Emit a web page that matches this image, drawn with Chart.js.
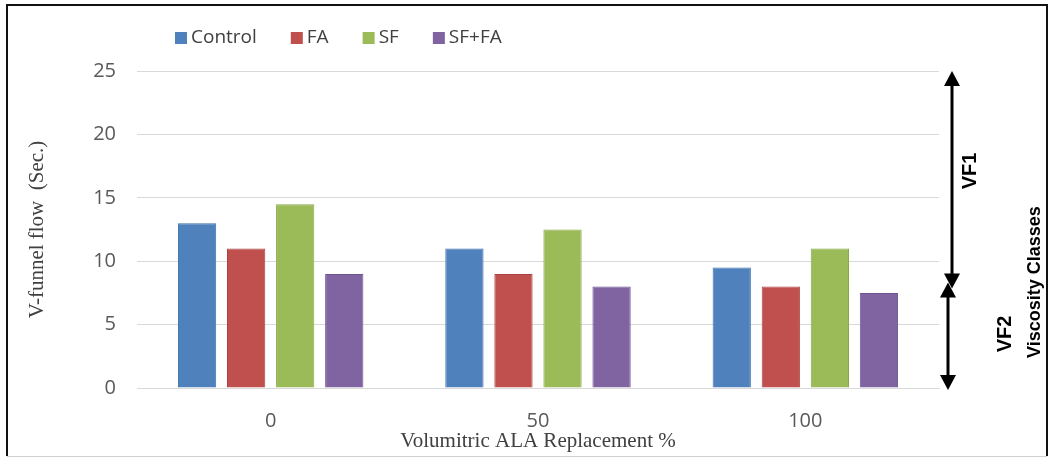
<!DOCTYPE html>
<html>
<head>
<meta charset="utf-8">
<script src="https://cdn.jsdelivr.net/npm/chart.js@4/dist/chart.umd.min.js"></script>
<style>
html,body{margin:0;padding:0;background:#fff;}
#wrap{position:relative;width:1051px;height:459px;}
canvas{display:block;}
</style>
</head>
<body>
<div id="wrap"><canvas id="c" width="1051" height="459"></canvas></div>
<script>
const categories = ['0', '50', '100'];
const seriesNames = ['Control', 'FA', 'SF', 'SF+FA'];
const controlValues = [13, 11, 9.5];
const faValues = [11, 9, 8];
const sfValues = [14.5, 12.5, 11];
const sfFaValues = [9, 8, 7.5];
const seriesColors = ['#4F81BD', '#C0504D', '#9BBB59', '#8064A2'];
const seriesBorders = ['#3F70AA', '#AA4340', '#88A84A', '#6F5590'];
const yTicks = [0, 5, 10, 15, 20, 25];
const classBoundaries = { VF1: [25, 8], VF2: [8, 0] };

const allValues = [controlValues, faValues, sfValues, sfFaValues];

const legendPlugin = {
  id: 'customLegend',
  afterDraw(chart) {
    const ctx = chart.ctx;
    ctx.save();
    ctx.font = '19px "Open Sans", "Noto Sans", sans-serif';
    ctx.textBaseline = 'middle';
    let x = 175;
    const y = 38;
    chart.data.datasets.forEach(ds => {
      ctx.fillStyle = ds.backgroundColor;
      ctx.fillRect(x, y - 6, 12, 12);
      ctx.fillStyle = '#404040';
      ctx.fillText(ds.label, x + 16, y);
      x += 16 + ctx.measureText(ds.label).width + 34;
    });
    ctx.restore();
  }
};

function drawArrow(ctx, x, y1, y2) {
  const h = 15, w = 8;
  ctx.beginPath();
  ctx.moveTo(x, y1 + h - 2);
  ctx.lineTo(x, y2 - h + 2);
  ctx.stroke();
  ctx.beginPath();
  ctx.moveTo(x, y1); ctx.lineTo(x - w, y1 + h); ctx.lineTo(x + w, y1 + h); ctx.closePath();
  ctx.fill();
  ctx.beginPath();
  ctx.moveTo(x, y2); ctx.lineTo(x - w, y2 - h); ctx.lineTo(x + w, y2 - h); ctx.closePath();
  ctx.fill();
}

function rotText(ctx, text, x, y) {
  ctx.save();
  ctx.translate(x, y);
  ctx.rotate(-Math.PI / 2);
  ctx.fillText(text, 0, 0);
  ctx.restore();
}

const annotPlugin = {
  id: 'annot',
  afterDraw(chart) {
    const ctx = chart.ctx;
    const ys = chart.scales.y;
    ctx.save();
    ctx.strokeStyle = '#000';
    ctx.fillStyle = '#000';
    ctx.lineWidth = 3;
    drawArrow(ctx, 952, ys.getPixelForValue(classBoundaries.VF1[0]), ys.getPixelForValue(classBoundaries.VF1[1]) + 2);
    drawArrow(ctx, 948, ys.getPixelForValue(classBoundaries.VF2[0]) - 4, ys.getPixelForValue(classBoundaries.VF2[1]) + 2);
    ctx.textAlign = 'center';
    ctx.textBaseline = 'middle';
    ctx.font = 'bold 20px "Liberation Sans", Arial, sans-serif';
    rotText(ctx, 'VF1', 970, 171);
    rotText(ctx, 'VF2', 1005, 334);
    ctx.font = 'bold 18px "Liberation Sans", Arial, sans-serif';
    rotText(ctx, 'Viscosity Classes', 1035, 282);
    // frame
    ctx.lineWidth = 2;
    ctx.strokeStyle = '#111';
    ctx.beginPath();
    ctx.moveTo(7, 456); ctx.lineTo(7, 5); ctx.lineTo(1047, 5); ctx.lineTo(1047, 456);
    ctx.stroke();
    ctx.lineWidth = 1;
    ctx.strokeStyle = '#cfcfcf';
    ctx.beginPath();
    ctx.moveTo(7, 456.5); ctx.lineTo(1047, 456.5);
    ctx.stroke();
    ctx.restore();
  }
};

new Chart(document.getElementById('c'), {
  type: 'bar',
  data: {
    labels: categories,
    datasets: seriesNames.map((name, i) => ({
      label: name,
      data: allValues[i],
      backgroundColor: seriesColors[i],
      borderColor: seriesBorders[i],
      borderWidth: 1,
      categoryPercentage: 0.734,
      barPercentage: 0.78
    }))
  },
  options: {
    responsive: false,
    animation: false,
    layout: { padding: { left: 0, right: 112, top: 71, bottom: 0 } },
    plugins: { legend: { display: false }, tooltip: { enabled: false } },
    scales: {
      x: {
        grid: { display: false, drawTicks: false },
        border: { display: true, color: '#D9D9D9', width: 1 },
        ticks: { color: '#595959', font: { family: '"Open Sans", "Noto Sans", sans-serif', size: 20 }, padding: 21 },
        title: { display: true, text: 'Volumitric ALA Replacement %', color: '#404040',
          font: { family: '"Liberation Serif", "Times New Roman", serif', size: 21 }, padding: { top: 0, bottom: 5 } },
        afterFit(s) { s.height = 71; }
      },
      y: {
        min: 0, max: 25,
        afterBuildTicks(s) { s.ticks = yTicks.map(v => ({ value: v })); },
        grid: { color: '#D9D9D9', drawTicks: false },
        border: { display: false },
        ticks: { color: '#595959', font: { family: '"Open Sans", "Noto Sans", sans-serif', size: 20 }, padding: 21 },
        title: { display: true, text: 'V-funnel flow  (Sec.)', color: '#404040',
          font: { family: '"Liberation Serif", "Times New Roman", serif', size: 21 }, padding: { top: 25, bottom: 0 } },
        afterFit(s) { s.width = 137; }
      }
    }
  },
  plugins: [legendPlugin, annotPlugin]
});
</script>
</body>
</html>
